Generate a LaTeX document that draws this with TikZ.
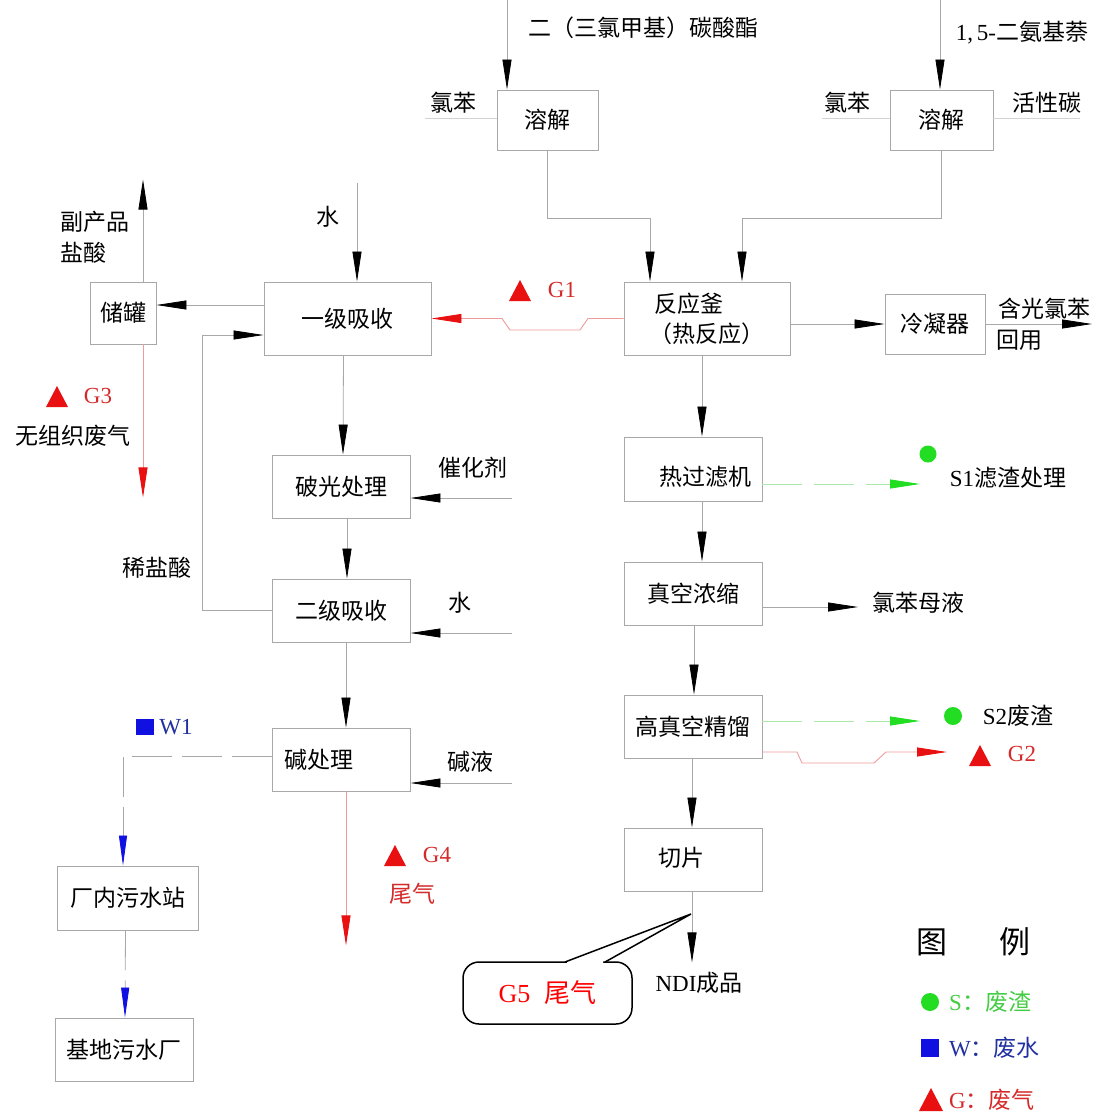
\documentclass[tikz,border=0pt]{standalone}
\usepackage{fontspec}
\setmainfont{Noto Sans CJK SC}
\newfontfamily\lat{Liberation Serif}
\usetikzlibrary{arrows.meta}
\definecolor{ln}{HTML}{A8A8A8}
\definecolor{rln}{HTML}{EE9A9A}
\definecolor{gln}{HTML}{A8E8A8}
\definecolor{rtip}{HTML}{E81010}
\definecolor{gtip}{HTML}{22DD22}
\definecolor{btip}{HTML}{1010E0}
\definecolor{rtxt}{HTML}{D42A2A}
\definecolor{btxt}{HTML}{2030A0}
\definecolor{gtxt}{HTML}{44CC44}
\newcommand{\mytri}[2]{\fill[rtip] (#1-11,#2+10) -- (#1+11,#2+10) -- (#1,#2-11) -- cycle;}
\tikzset{
  box/.style={draw=ln, line width=0.9pt, inner sep=0pt, font=\fontsize{23}{30}\selectfont},
  lbl/.style={inner sep=0pt, font=\fontsize{23}{30}\selectfont},
  flow/.style={draw=ln, line width=0.8pt, -{Triangle[length=30pt,width=9pt,color=black]}},
  faint/.style={draw=ln!50, line width=0.8pt},
  redflow/.style={draw=rln, line width=0.9pt, -{Triangle[length=30pt,width=9pt,color=rtip]}},
  greenflow/.style={draw=gln, line width=0.9pt, dash pattern=on 40pt off 12pt, -{Triangle[length=30pt,width=9pt,color=gtip]}},
  wflow/.style={draw=ln, line width=0.8pt, dash pattern=on 40pt off 10pt, -{Triangle[length=30pt,width=8pt,color=btip]}},
}
\begin{document}
\begin{tikzpicture}[x=1pt,y=-1pt]
\useasboundingbox (0,0) rectangle (1106,1117);

% boxes
\node[box, minimum width=101pt, minimum height=60pt] (rj1) at (547.5,120) {溶解};
\node[box, minimum width=103pt, minimum height=60pt] (rj2) at (941.5,120) {溶解};
\node[box, minimum width=166pt, minimum height=73pt, align=left] (fyf) at (707,318.5) {\ 反应釜\\（热反应）};
\node[box, minimum width=100pt, minimum height=60pt] (lnq) at (935,324) {冷凝器};
\node[box, minimum width=167pt, minimum height=73pt] (yj) at (347.5,318.5) {一级吸收};
\node[box, minimum width=66pt, minimum height=62pt] (cg) at (123,313) {储罐};
\node[box, minimum width=138pt, minimum height=63pt] (pg) at (341,486.5) {破光处理};
\node[box, minimum width=138pt, minimum height=63pt] (ej) at (341,610.5) {二级吸收};
\node[box, minimum width=138pt, minimum height=63pt] (jc) at (341,759.5) {};
\node[lbl] (jct) at (319,760) {碱处理};
\node[box, minimum width=141pt, minimum height=64pt] (cn) at (127.5,898) {厂内污水站};
\node[box, minimum width=138pt, minimum height=63pt] (jd) at (124,1049.5) {基地污水厂};
\node[box, minimum width=138pt, minimum height=64pt] (rgl) at (693,469) {};
\node[lbl] (rglt) at (705,477) {热过滤机};
\node[box, minimum width=138pt, minimum height=63pt] (zk) at (693,593.5) {真空浓缩};
\node[box, minimum width=138pt, minimum height=63pt] (gz) at (693,726.5) {高真空精馏};
\node[box, minimum width=138pt, minimum height=63pt] (qp) at (693,859.5) {};
\node[lbl] (qpt) at (681,858) {切片};

% top inputs
\coordinate (in1) at (507,0);
\coordinate (in2) at (940,0);
\draw[flow] (in1) -- (in1 |- rj1.north);
\draw[flow] (in2) -- (in2 |- rj2.north);
\node[lbl] (t1) at (643,28) {二（三氯甲基）碳酸酯};
\node[lbl] (t2) at (1022,33) {{\lat 1,\,5-}二氨基萘};
\coordinate (cb1) at (425,118);
\coordinate (cb2) at (822,118);
\coordinate (hx) at (1080,118);
\draw[faint] (cb1) -- (cb1 -| rj1.west);
\draw[faint] (cb2) -- (cb2 -| rj2.west);
\draw[faint] (hx) -- (hx -| rj2.east);
\node[lbl] (t3) at (453,103) {氯苯};
\node[lbl] (t4) at (847,103) {氯苯};
\node[lbl] (t5) at (1047,103) {活性碳};

\draw[flow] (rj1.south) -- ++(0,68) -| ([xshift=-57pt]fyf.north);
\draw[flow] (rj2.south) -- ++(0,68) -| ([xshift=35pt]fyf.north);

% condenser
\draw[flow] (fyf.east |- lnq.west) -- (lnq.west);
\coordinate (hy) at (1092,324);
\draw[flow] (lnq.east) -- (hy);
\node[lbl, anchor=west] (t6) at (998,309) {含光氯苯};
\node[lbl, anchor=west] (t7) at (996,340) {回用};

% G1
\draw[redflow] (fyf.west) -- (588,318.5) -- (580,330) -- (510,330) -- (502,318.5) -- (yj.east);
\mytri{520}{291}
\node[lbl, text=rtxt] (g1) at (562,290) {\lat G1};

% water 1
\coordinate (w1) at (357,183);
\draw[flow] (w1) -- (w1 |- yj.north);
\node[lbl] (t8) at (328,217) {水};

% storage
\draw[flow] ([yshift=13.5pt]yj.west) -- ([yshift=13.5pt]yj.west -| cg.east);
\draw[flow] ([xshift=20pt]cg.north) -- ++(0,-102);
\node[lbl, anchor=west] (t9) at (60,222) {副产品};
\node[lbl, anchor=west] (t10) at (60,253) {盐酸};
\draw[redflow] ([xshift=20pt]cg.south) -- ++(0,153);
\mytri{57}{397}
\node[lbl, text=rtxt] (g3) at (98,396) {\lat G3};
\node[lbl] (t11) at (73,436) {无组织废气};

% dilute acid loop
\draw[flow] (ej.west) -| (202,335) -- ([yshift=-16.5pt]yj.west);
\node[lbl] (t12) at (157,568) {稀盐酸};

% left column
\draw[flow] ([xshift=-4pt]yj.south) -- ([xshift=2pt]pg.north);
\coordinate (c1) at (512,498);
\draw[flow] (c1) -- (c1 -| pg.east);
\node[lbl] (t13) at (473,468) {催化剂};
\draw[flow] ([xshift=6pt]pg.south) -- ([xshift=6pt]ej.north);
\coordinate (c2) at (512,633);
\draw[flow] (c2) -- (c2 -| ej.east);
\node[lbl] (t14) at (460,603) {水};
\draw[flow] ([xshift=5pt]ej.south) -- ([xshift=5pt]jc.north);
\coordinate (c3) at (512,783);
\draw[flow] (c3) -- (c3 -| jc.east);
\node[lbl] (t15) at (470,762) {碱液};

% wastewater
\draw[wflow] ([yshift=3.5pt]jc.west) -| ([xshift=-4.5pt]cn.north);
\fill[btip] (136,719) rectangle (154,735);
\node[lbl, text=btxt] (w1l) at (176,727) {\lat W1};
\draw[wflow] ([xshift=-2pt]cn.south) -- ([xshift=1pt]jd.north);

% G4
\draw[redflow] ([xshift=5pt]jc.south) -- ++(0,154);
\mytri{395}{856}
\node[lbl, text=rtxt] (g4) at (437,855) {\lat G4};
\node[lbl, text=rtxt] (t16) at (412,894) {尾气};

% right column
\draw[flow] ([xshift=-5pt]fyf.south) -- ([xshift=9pt]rgl.north);
\coordinate (s1) at (920,484);
\draw[greenflow] (rgl.east |- s1) -- (s1);
\fill[gtip] (928,454) circle (8.5);
\node[lbl] (t17) at (1008,478) {{\lat S1}滤渣处理};
\draw[flow] ([xshift=9pt]rgl.south) -- ([xshift=9pt]zk.north);
\coordinate (ml) at (858,607);
\draw[flow] (zk.east |- ml) -- (ml);
\node[lbl] (t18) at (918,603) {氯苯母液};
\draw[flow] ([xshift=1pt]zk.south) -- ([xshift=1pt]gz.north);
\coordinate (s2) at (920,721);
\draw[greenflow] (gz.east |- s2) -- (s2);
\fill[gtip] (953,716) circle (9);
\node[lbl] (t19) at (1018,716) {{\lat S2}废渣};
\draw[redflow] ([yshift=-25.5pt]gz.east) -- (797,752) -- (802,763) -- (874,763) -- (886,752) -- (947,752);
\mytri{980}{756}
\node[lbl, text=rtxt] (g2) at (1022,754) {\lat G2};
\draw[flow] ([xshift=-1pt]gz.south) -- ([xshift=-1pt]qp.north);
\draw[flow] ([xshift=-1pt]qp.south) -- ++(0,71);
\node[lbl] (t20) at (699,983) {{\lat NDI}成品};

% callout G5
\node[draw=black, line width=1.5pt, rounded corners=16pt, minimum width=169pt, minimum height=62pt, inner sep=0pt, font=\fontsize{26}{30}\selectfont, text=red] (g5) at (547.5,993) {\raisebox{0pt}{\lat G5}\hspace{14pt}尾气};
\coordinate (g5tip) at (691,914);
\fill[white] (567,961) -- (g5tip) -- (603,961) -- (603,965) -- (567,965) -- cycle;
\draw[black, line width=1.5pt, line join=miter] (565,962) -- (g5tip) -- (605,962);

% legend
\node[lbl, font=\fontsize{31}{36}\selectfont] (lg1) at (932,942) {图};
\node[lbl, font=\fontsize{31}{36}\selectfont] (lg2) at (1015,942) {例};
\fill[gtip] (930,1002) circle (9);
\node[lbl, anchor=west, text=gtxt] (lg3) at (949,1002) {{\lat S}：废渣};
\fill[btip] (921,1039) rectangle (939,1057);
\node[lbl, anchor=west, text=btxt] (lg4) at (949,1048) {{\lat W}：废水};
\fill[rtip] (919,1111) -- (943,1111) -- (931,1088) -- cycle;
\node[lbl, anchor=west, text=rtxt] (lg5) at (949,1100) {{\lat G}：废气};
\end{tikzpicture}
\end{document}
